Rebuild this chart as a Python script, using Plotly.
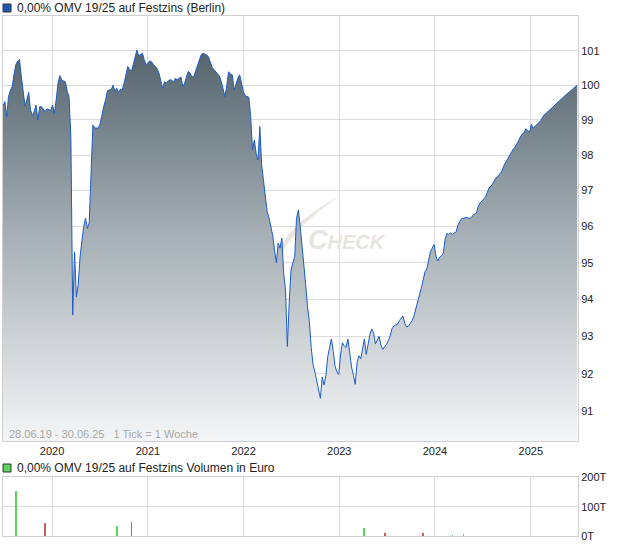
import datetime as dt
import math
import plotly.graph_objects as go

# ---------------- data ----------------
start_date = dt.date(2019, 6, 28)
prices = [
    99.40, 99.53, 99.10, 99.67, 99.85, 99.96, 100.30, 100.60, 100.70, 100.74,
    100.25, 99.77, 99.40, 99.58, 99.79, 99.29, 99.12, 99.24, 99.43, 99.00,
    99.38, 99.38, 99.30, 99.24, 99.32, 99.30, 99.27, 99.43, 99.19, 99.58,
    100.06, 100.28, 100.15, 100.12, 100.10, 99.82, 99.67, 98.50, 93.58, 95.30,
    94.07, 94.40, 95.16, 95.60, 96.00, 96.23, 95.95, 96.10, 97.70, 98.86,
    98.77, 98.77, 98.77, 98.91, 99.20, 99.40, 99.60, 99.85, 99.86, 99.88,
    100.00, 99.82, 99.91, 99.79, 99.88, 99.86, 100.06, 100.35, 100.54, 100.46,
    100.40, 100.60, 100.85, 101.02, 100.85, 100.88, 100.93, 100.73, 100.59, 100.65,
    100.70, 100.68, 100.59, 100.55, 100.48, 100.35, 100.10, 99.91, 100.10, 100.06,
    100.12, 100.16, 100.14, 100.10, 100.20, 100.16, 100.20, 100.24, 99.96, 100.06,
    100.24, 100.40, 100.35, 100.24, 100.25, 100.40, 100.60, 100.73, 100.88, 100.93,
    100.91, 100.88, 100.82, 100.65, 100.52, 100.45, 100.38, 100.32, 100.26, 100.10,
    99.85, 99.67, 100.00, 100.39, 100.32, 100.30, 99.86, 100.05, 100.20, 100.30,
    100.00, 99.82, 99.70, 99.67, 99.65, 99.10, 98.15, 98.43, 98.05, 97.86,
    98.81, 97.72, 97.30, 96.80, 96.40, 96.25, 96.00, 95.75, 95.35, 95.00,
    95.54, 95.40, 95.68, 94.71, 94.25, 92.73, 93.90, 94.80, 95.00, 95.17,
    96.23, 96.46, 96.00, 95.50, 94.90, 94.40, 93.80, 93.40, 92.70, 92.25,
    92.05, 91.80, 91.50, 91.35, 91.91, 91.70, 91.96, 92.45, 92.70, 92.93,
    92.60, 92.20, 92.05, 91.98, 92.50, 92.83, 92.75, 92.70, 92.93, 92.50,
    92.18, 91.96, 91.72, 92.30, 92.48, 92.40, 92.70, 92.93, 92.52, 92.80,
    93.05, 93.20, 93.10, 92.80, 92.90, 93.00, 92.77, 92.65, 92.72, 92.78,
    92.88, 93.00, 93.20, 93.28, 93.30, 93.32, 93.42, 93.50, 93.55, 93.35,
    93.25, 93.28, 93.35, 93.42, 93.55, 93.75, 94.00, 94.12, 94.30, 94.55,
    94.75, 94.83, 95.08, 95.30, 95.40, 95.50, 95.18, 95.05, 95.15, 95.20,
    95.25, 95.65, 95.81, 95.78, 95.82, 95.78, 95.82, 95.85, 96.05, 96.15,
    96.22, 96.22, 96.25, 96.25, 96.22, 96.24, 96.30, 96.35, 96.37, 96.55,
    96.65, 96.70, 96.77, 96.82, 96.95, 97.08, 97.12, 97.20, 97.30, 97.38,
    97.42, 97.48, 97.55, 97.70, 97.80, 97.87, 98.00, 98.10, 98.16, 98.22,
    98.30, 98.40, 98.52, 98.60, 98.63, 98.75, 98.70, 98.65, 98.88, 98.77,
    98.82, 98.86, 98.92, 98.98, 99.08, 99.15, 99.19, 99.24, 99.29, 99.35,
    99.40, 99.45, 99.50, 99.55, 99.60, 99.64, 99.69, 99.74, 99.78, 99.82,
    99.86, 99.90, 99.95, 100.00,
]
dates = [start_date + dt.timedelta(days=7 * i) for i in range(len(prices))]

# volume (Euro) by week index
volume_weeks = [7, 23, 62, 70, 197, 208, 229, 245, 251]
volume_values = [151000, 44000, 34000, 47000, 27000, 10000, 10000, 1500, 4000]
volume_dir = ["up", "down", "up", "down", "up", "down", "down", "up", "up"]
volume_dates = [dates[w] for w in volume_weeks]

price_ticks = [91, 92, 93, 94, 95, 96, 97, 98, 99, 100, 101]
year_ticks = ["2020", "2021", "2022", "2023", "2024", "2025"]
vol_ticks = [0, 100000, 200000]
vol_ticktext = ["0T", "100T", "200T"]

title_price = "0,00% OMV 19/25 auf Festzins (Berlin)"
title_vol = "0,00% OMV 19/25 auf Festzins Volumen in Euro"
range_text = "28.06.19 - 30.06.25   1 Tick = 1 Woche"

# ---------------- layout helpers ----------------
W, H = 620, 546
def px(x):
    return x / W
def py(y):
    return 1 - y / H

FONT = "Liberation Sans, Arial, sans-serif"
GRID = "#dcdcdc"
LINE_BLUE = "#1c5cc8"

fig = go.Figure()

fig.add_trace(go.Scatter(
    x=dates, y=prices, mode="lines",
    line=dict(color=LINE_BLUE, width=1),
    fill="tozeroy",
    fillgradient=dict(type="vertical",
                      colorscale=[[0, "#f4f5f6"], [0.55, "#a3adb3"], [1, "#56656f"]],
                      start=90.23, stop=100.9),
    xaxis="x", yaxis="y", hoverinfo="skip", showlegend=False,
))

bar_colors = ["#5fd35f" if d == "up" else "#c85a5a" for d in volume_dir]
fig.add_trace(go.Bar(
    x=volume_dates, y=volume_values, marker_color=bar_colors,
    marker_line_width=0, width=3.2 * 86400000,
    xaxis="x2", yaxis="y2", hoverinfo="skip", showlegend=False,
))

x_range = ["2019-06-28", "2025-06-30"]
year_vals = [f"{y}-01-01" for y in year_ticks]

fig.update_layout(
    template="none",
    width=W, height=H,
    margin=dict(l=0, r=0, t=0, b=0, pad=0, autoexpand=False),
    paper_bgcolor="white", plot_bgcolor="white",
    font=dict(family=FONT, size=11, color="#222222"),
    bargap=0,
    hovermode=False,
    xaxis=dict(domain=[px(3), px(578)], range=x_range, type="date",
               tickvals=year_vals, ticktext=year_ticks, automargin=False,
               showgrid=True, gridcolor=GRID, gridwidth=1,
               showline=True, linecolor="#d0d0d0", linewidth=1, mirror=True,
               ticks="", ticklen=0, tickfont=dict(size=11, color="#222"),
               anchor="y", zeroline=False, fixedrange=True),
    yaxis=dict(domain=[py(441), py(16)], type="log",
               range=[math.log10(90.23), math.log10(102.02)],
               tickvals=price_ticks, ticktext=[str(v) for v in price_ticks],
               side="right", showgrid=True, gridcolor=GRID, gridwidth=1, automargin=False,
               showline=True, linecolor="#d0d0d0", linewidth=1, mirror=True,
               ticks="", tickfont=dict(size=11, color="#222"),
               anchor="x", zeroline=False),
    xaxis2=dict(domain=[px(3), px(578)], range=x_range, type="date",
                tickvals=year_vals, showticklabels=False, automargin=False,
                showgrid=True, gridcolor=GRID, gridwidth=1,
                showline=True, linecolor="#d0d0d0", linewidth=1, mirror=True,
                ticks="", anchor="y2", zeroline=False),
    yaxis2=dict(domain=[py(536), py(477.3)], range=[0, 200000],
                tickvals=vol_ticks, ticktext=vol_ticktext, automargin=False,
                side="right", showgrid=True, gridcolor=GRID, gridwidth=1,
                showline=True, linecolor="#d0d0d0", linewidth=1, mirror=True,
                ticks="", tickfont=dict(size=11, color="#222"),
                anchor="x2", zeroline=False),
)

shapes = [
    # legend squares
    dict(type="rect", xref="paper", yref="paper",
         x0=px(3), x1=px(11), y0=py(12), y1=py(4),
         fillcolor="#1f55b8", line=dict(color="#333", width=1)),
    dict(type="rect", xref="paper", yref="paper",
         x0=px(3), x1=px(11), y0=py(472), y1=py(464),
         fillcolor="#5fd35f", line=dict(color="#333", width=1)),
    # watermark swoosh (behind the chart)
    dict(type="path", xref="paper", yref="paper", layer="below",
         path=f"M {px(271)},{py(232)} L {px(280)},{py(246)} Q {px(300)},{py(216)} {px(340)},{py(196)} "
              f"Q {px(302)},{py(221)} {px(282)},{py(252)} Z",
         fillcolor="#ebe6e1", line=dict(width=0)),
]

annotations = [
    dict(text=title_price, xref="paper", yref="paper", x=px(15), y=py(8),
         xanchor="left", yanchor="middle", showarrow=False,
         font=dict(size=12, color="#222")),
    dict(text=title_vol, xref="paper", yref="paper", x=px(15), y=py(468),
         xanchor="left", yanchor="middle", showarrow=False,
         font=dict(size=12, color="#222")),
    dict(text=range_text, xref="paper", yref="paper", x=px(7), y=py(434),
         xanchor="left", yanchor="middle", showarrow=False,
         font=dict(size=11, color="#a8a8a8")),
    dict(text="C<span style='font-size:20px'>HECK</span>", xref="paper", yref="paper",
         x=px(306), y=py(240), xanchor="left", yanchor="middle", showarrow=False,
         font=dict(size=27, color="#e9e4df", style="italic", weight="bold")),
]
fig.update_layout(shapes=shapes, annotations=annotations)

fig.write_html("out.html",
               config={"displayModeBar": False},
               post_script="document.body.style.margin='0';document.body.style.overflow='hidden';")
